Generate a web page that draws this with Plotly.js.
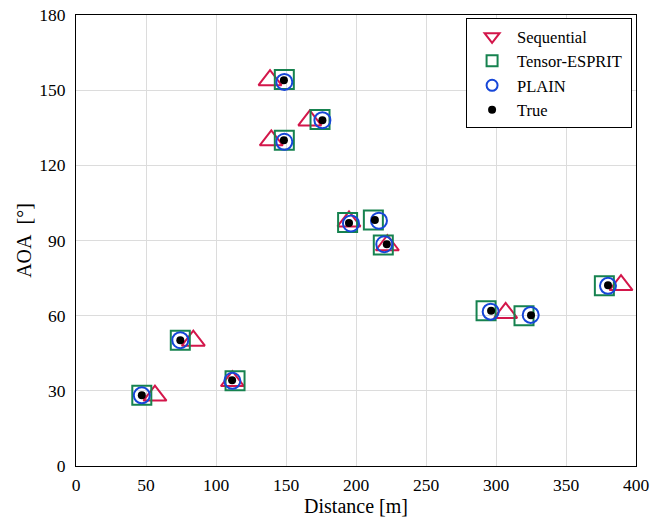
<!DOCTYPE html>
<html>
<head>
<meta charset="utf-8">
<script src="https://cdn.plot.ly/plotly-3.0.1.min.js"></script>
<style>html,body{margin:0;padding:0;background:#fff;}#chart{width:654px;height:519px;}</style>
</head>
<body>
<div id="chart"></div>
<script>
// Data
const seqX = [138.6, 167, 139.5, 195, 222.4, 306.9, 389.3, 83.8, 56.4, 111.7];
const seqY = [154, 137.9, 130, 97.6, 88.1, 61.1, 72.2, 50, 28.1, 33.9];
const tensorX = [148.8, 174.3, 148.8, 194, 212.4, 219.5, 292.9, 320, 377.4, 74.5, 47, 113.6];
const tensorY = [154.3, 138.3, 130, 97.2, 98.2, 88.2, 62, 60, 71.9, 50.2, 28.2, 34];
const plainX = [148.8, 176, 148.8, 196.4, 216.4, 220.2, 296.2, 324.8, 380, 74.5, 47, 111.7];
const plainY = [153.3, 138, 129.4, 96.8, 97.9, 88.5, 61.6, 60.3, 71.9, 50.2, 28.2, 34];
const trueX = [148.5, 176, 148.5, 195, 213.5, 222, 296.5, 325, 380, 74.5, 47, 111.5];
const trueY = [154, 138, 130, 97, 98.2, 88.5, 62, 60.2, 72.1, 50.2, 28.2, 34.2];
const names = ['Sequential', 'Tensor-ESPRIT', 'PLAIN', 'True'];
const xTicks = [0, 50, 100, 150, 200, 250, 300, 350, 400];
const yTicks = [0, 30, 60, 90, 120, 150, 180];

const RED = '#d3164a', GREEN = '#16824f', BLUE = '#1646d8';
const serif = '"Liberation Serif", "Times New Roman", serif';
const pad = '\u00a0';

const traces = [
  {x: seqX, y: seqY, name: names[0], mode: 'markers', type: 'scatter', showlegend: false,
   marker: {symbol: 'triangle-up-open', size: 20, color: RED, line: {width: 2, color: RED}}},
  {x: tensorX, y: tensorY, name: names[1], mode: 'markers', type: 'scatter', showlegend: false,
   marker: {symbol: 'square-open', size: 19, color: GREEN, line: {width: 2, color: GREEN}}},
  {x: plainX, y: plainY, name: names[2], mode: 'markers', type: 'scatter', showlegend: false,
   marker: {symbol: 'circle-open', size: 16, color: BLUE, line: {width: 2, color: BLUE}}},
  {x: trueX, y: trueY, name: names[3], mode: 'markers', type: 'scatter', showlegend: false,
   marker: {symbol: 'circle', size: 8, color: '#000'}},
  // legend entries
  {x: [null], y: [null], name: names[0] + pad, mode: 'markers', type: 'scatter',
   marker: {symbol: 'triangle-down-open', size: 13, color: RED, line: {width: 2, color: RED}}},
  {x: [null], y: [null], name: names[1] + pad, mode: 'markers', type: 'scatter',
   marker: {symbol: 'square-open', size: 11, color: GREEN, line: {width: 2, color: GREEN}}},
  {x: [null], y: [null], name: names[2] + pad, mode: 'markers', type: 'scatter',
   marker: {symbol: 'circle-open', size: 11, color: BLUE, line: {width: 2, color: BLUE}}},
  {x: [null], y: [null], name: names[3] + pad, mode: 'markers', type: 'scatter',
   marker: {symbol: 'circle', size: 8, color: '#000'}}
];

const layout = {
  width: 654, height: 519,
  margin: {l: 76, r: 18, t: 15, b: 53},
  paper_bgcolor: '#fff', plot_bgcolor: '#fff',
  font: {family: serif, size: 17, color: '#000'},
  showlegend: true,
  legend: {x: 0.993, y: 0.993, xanchor: 'right', yanchor: 'top',
           bordercolor: '#000', borderwidth: 1, bgcolor: '#fff', itemwidth: 40,
           font: {family: serif, size: 16.5, color: '#000'}, tracegroupgap: 0},
  xaxis: {range: [0, 400], tickvals: xTicks, ticktext: xTicks.map(String),
          tickfont: {family: serif, size: 17.5, color: '#000'},
          showgrid: true, gridcolor: '#dcdcdc', gridwidth: 1,
          showline: true, linecolor: '#000', linewidth: 1, mirror: true,
          zeroline: false, ticks: '', ticklabelstandoff: 3,
          title: {text: 'Distance [m]', font: {family: serif, size: 20}, standoff: 4}},
  yaxis: {range: [0, 180], tickvals: yTicks, ticktext: yTicks.map(String),
          tickfont: {family: serif, size: 17.5, color: '#000'},
          showgrid: true, gridcolor: '#dcdcdc', gridwidth: 1,
          showline: true, linecolor: '#000', linewidth: 1, mirror: true,
          zeroline: false, ticks: '', ticklabelstandoff: 6,
          title: {text: 'AOA\u2002[°]', font: {family: serif, size: 20}, standoff: 2}}
};

Plotly.newPlot('chart', traces, layout, {displayModeBar: false, staticPlot: true});
</script>
</body>
</html>
